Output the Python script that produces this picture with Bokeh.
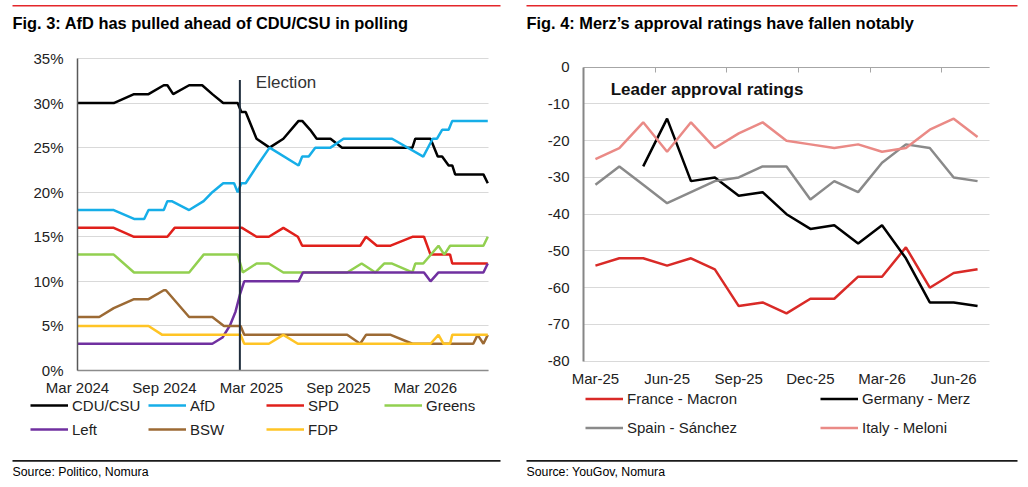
from bokeh.plotting import figure
from bokeh.layouts import row
from bokeh.models import (Range1d, FixedTicker, PrintfTickFormatter, LinearAxis, Label,
                          Legend, LegendItem, BoxAnnotation)
from bokeh.embed import file_html
from bokeh.resources import INLINE

FONT = "Liberation Sans"
H = 487

# ---- Fig. 3: polling, x = months since Mar 2024 ----
poll_ticks = [0, 6, 12, 18, 24]
poll_tick_labels = ["Mar 2024", "Sep 2024", "Mar 2025", "Sep 2025", "Mar 2026"]

cdu_x = [0, 2.5, 3.9, 4.9, 5.95, 6.2, 6.6, 7.7, 8.6, 9.3, 10.05, 11.05, 11.3, 11.6, 12.35, 13.25,
         14.2, 15.25, 15.5, 16.05, 16.5, 17.45, 18.25, 23.1, 23.3, 24.35, 24.85, 25.15, 25.6,
         25.85, 26.05, 28.0, 28.3]
cdu_y = [30, 30, 31, 31, 32, 32, 31, 32, 32, 31, 30, 30, 29, 29, 26, 25,
         26, 28, 28, 27, 26, 26, 25, 25, 26, 26, 24, 24, 23,
         23, 22, 22, 21]

afd_x = [0, 2.5, 3.9, 4.6, 4.9, 5.95, 6.2, 6.5, 7.7, 8.7, 9.3, 10.05, 10.8, 11.05, 11.3, 11.6,
         12.4, 13.25, 15.25, 15.5, 15.95, 16.4, 17.45, 18.35, 21.7, 23.85, 24.5, 24.8, 25.15,
         25.6, 25.85, 28.3]
afd_y = [18, 18, 17, 17, 18, 18, 19, 19, 18, 19, 20, 21, 21, 20, 21, 21,
         23, 25, 23, 24, 24, 25, 25, 26, 26, 24, 26, 26, 27,
         27, 28, 28]

spd_x = [0, 2.5, 3.9, 6.2, 6.7, 11.35, 12.35, 13.2, 14.2, 15.2, 15.5, 19.5, 19.9, 20.65, 21.6,
         23.1, 23.9, 24.35, 25.7, 25.85, 28.3]
spd_y = [16, 16, 15, 15, 16, 16, 15, 15, 16, 15, 14, 14, 15, 14, 14,
         15, 15, 13, 13, 12, 12]

greens_x = [0, 2.5, 3.9, 7.7, 8.7, 11.05, 11.4, 12.35, 13.2, 14.2, 18.6, 19.6, 20.55, 21.15,
            21.7, 23.1, 23.3, 23.85, 24.9, 25.3, 25.7, 28.0, 28.3]
greens_y = [13, 13, 11, 11, 13, 13, 11, 12, 12, 11, 11, 12, 11, 12,
            12, 11, 12, 12, 14, 13, 14, 14, 15]

left_x = [0, 9.3, 10.0, 10.5, 10.9, 11.2, 11.5, 15.25, 15.55, 23.9, 24.35, 24.9, 28.0, 28.3]
left_y = [3, 3, 3.7, 5.0, 6.6, 8.5, 10, 10, 11, 11, 10, 11, 11, 12]

bsw_x = [0, 1.5, 2.5, 3.9, 4.9, 5.95, 6.1, 7.7, 9.3, 10.1, 11.25, 11.5, 18.6, 19.5, 19.9, 21.6,
         23.1, 27.3, 27.6, 28.0, 28.3]
bsw_y = [6, 6, 7, 8, 8, 9, 9, 6, 6, 5, 5, 4, 4, 3, 4, 4,
         3, 3, 4, 3, 4]

fdp_x = [0, 4.9, 5.85, 11.25, 11.5, 13.2, 14.2, 15.2, 24.35, 24.9, 25.25, 25.7, 25.85, 28.3]
fdp_y = [5, 5, 4, 4, 3, 3, 4, 3, 3, 4, 3, 3, 4, 4]

election_month = 11.2
election_top = 32.6

poll_series = [
    ("CDU/CSU", cdu_x, cdu_y, "#000000"),
    ("AfD", afd_x, afd_y, "#16aee8"),
    ("SPD", spd_x, spd_y, "#e0201b"),
    ("Greens", greens_x, greens_y, "#92d050"),
    ("Left", left_x, left_y, "#7030a0"),
    ("BSW", bsw_x, bsw_y, "#9c6a34"),
    ("FDP", fdp_x, fdp_y, "#ffc425"),
]

# ---- Fig. 4: leader approval, monthly ----
months = ["Mar-25", "Apr-25", "May-25", "Jun-25", "Jul-25", "Aug-25", "Sep-25", "Oct-25",
          "Nov-25", "Dec-25", "Jan-26", "Feb-26", "Mar-26", "Apr-26", "May-26", "Jun-26", "Jul-26"]
france = [-54, -52, -52, -54, -52, -55, -65, -64, -67, -63, -63, -57, -57, -49, -60, -56, -55]
germany = [None, None, -27, -14, -31, -30, -35, -34, -40, -44, -43, -48, -43, -52, -64, -64, -65]
spain = [-32, -27, -32, -37, -34, -31, -30, -27, -27, -36, -31, -34, -26, -21, -22, -30, -31]
italy = [-25, -22, -15, -23, -15, -22, -18, -15, -20, -21, -22, -21, -23, -22, -17, -14, -19]

leader_series = [
    ("France - Macron", france, "#d92a27"),
    ("Germany - Merz", germany, "#000000"),
    ("Spain - Sánchez", spain, "#8a8a8a"),
    ("Italy - Meloni", italy, "#ea8a86"),
]


def padded_range(lo, hi, lo_px, hi_px, total_px):
    # range whose values lo/hi land on pixel lo_px/hi_px of a frame total_px long
    k = (hi_px - lo_px) / (hi - lo)
    return Range1d(lo - lo_px / k, hi + (total_px - hi_px) / k)


def panel(width, xr, yr):
    p = figure(width=width, height=H, x_range=xr, y_range=yr, min_border=0,
               toolbar_location=None, output_backend="svg", outline_line_color=None)
    p.xgrid.visible = False
    p.ygrid.grid_line_color = "#d9d9d9"
    p.axis.major_tick_in = 0
    p.axis.major_tick_out = 0
    p.axis.minor_tick_line_color = None
    p.axis.major_label_text_font = FONT
    p.axis.major_label_text_font_size = "15px"
    p.axis.major_label_text_color = "#222222"
    return p


def frame_text(p, x, top, txt, size, bold=False):
    p.add_layout(Label(x=x, y=H - top, x_units="screen", y_units="screen", text=txt,
                       text_font=FONT, text_font_size=size, text_color="#000000",
                       text_font_style="bold" if bold else "normal", text_baseline="middle"))


def hrule(p, x0, x1, top, thick, color):
    p.add_layout(BoxAnnotation(left=x0, right=x1, top=H - top, bottom=H - top - thick,
                               left_units="screen", right_units="screen",
                               top_units="screen", bottom_units="screen",
                               fill_color=color, fill_alpha=1, line_color=None))


def style_legend(lg, ncols, item_h, label_w):
    lg.orientation = "horizontal"
    lg.ncols = ncols
    lg.glyph_width = 38
    lg.glyph_height = item_h
    lg.label_height = item_h
    lg.label_width = label_w
    lg.label_standoff = 4
    lg.spacing = 0
    lg.padding = 0
    lg.margin = 0
    lg.border_line_color = None
    lg.background_fill_alpha = 0
    lg.label_text_font = FONT
    lg.label_text_font_size = "15px"
    lg.label_text_color = "#222222"


# ---------------- left chart ----------------
W1 = 516
x_end1 = 28.35
p1 = panel(W1, padded_range(0, x_end1, 77, 488, W1), padded_range(0, 35, H - 370, H - 58, H))

items1 = []
for name, xs, ys, col in poll_series:
    r = p1.line(xs, ys, color=col, line_width=2.5)
    items1.append(LegendItem(label=name, renderers=[r]))

p1.line([election_month, election_month], [0, election_top], color="#1f2d3d", line_width=2)
p1.add_layout(Label(x=12.3, y=32.3, text="Election", text_font=FONT, text_font_size="17px",
                    text_color="#333333", text_baseline="middle"))

p1.xaxis.fixed_location = 0
p1.xaxis.bounds = (0, x_end1)
p1.xaxis.ticker = FixedTicker(ticks=poll_ticks)
p1.xaxis.major_label_overrides = dict(zip(poll_ticks, poll_tick_labels))
p1.xaxis.axis_line_color = "#8c8c8c"
p1.xaxis.major_label_standoff = 8
p1.yaxis.fixed_location = 0
p1.yaxis.bounds = (0, 35)
p1.yaxis.ticker = FixedTicker(ticks=list(range(0, 36, 5)))
p1.yaxis.formatter = PrintfTickFormatter(format="%d%%")
p1.yaxis.axis_line_color = "#595959"
p1.yaxis.major_label_standoff = 14
p1.axis.axis_line_width = 1.5
p1.ygrid.cross_bounds = (0, x_end1)

lg1 = Legend(items=items1, location=(30, H - 441))
style_legend(lg1, 4, 24, 76)
p1.add_layout(lg1)

hrule(p1, 12, 500, 4.5, 1.5, "#e4262b")
frame_text(p1, 12, 22, "Fig. 3: AfD has pulled ahead of CDU/CSU in polling", "16.4px", bold=True)
hrule(p1, 12, 500, 459.5, 1.8, "#1a1a1a")
frame_text(p1, 12, 471, "Source: Politico, Nomura", "12.3px")

# ---------------- right chart ----------------
W2 = 512
idx = list(range(len(months)))
x0, x1 = -0.5, len(months) - 0.5
p2 = panel(W2, padded_range(x0, x1, 67, 473, W2), padded_range(-80, 0, H - 360.7, H - 66.7, H))

items2 = []
for name, vals, col in leader_series:
    pts = [(i, v) for i, v in zip(idx, vals) if v is not None]
    r = p2.line([a for a, _ in pts], [b for _, b in pts], color=col, line_width=2.5)
    items2.append(LegendItem(label=name, renderers=[r]))

p2.add_layout(Label(x=0.64, y=-6.1, text="Leader approval ratings", text_font=FONT,
                    text_font_size="17px", text_font_style="bold", text_color="#111111",
                    text_baseline="middle"))

label_ticks = idx[::3]
p2.xaxis.fixed_location = -80
p2.xaxis.bounds = (x0, x1)
p2.xaxis.ticker = FixedTicker(ticks=label_ticks)
p2.xaxis.major_label_overrides = {i: months[i] for i in label_ticks}
p2.xaxis.axis_line_color = None
p2.xaxis.major_label_standoff = 9
p2.yaxis.fixed_location = x0
p2.yaxis.bounds = (-80, 0)
p2.yaxis.ticker = FixedTicker(ticks=list(range(-80, 1, 10)))
p2.yaxis.formatter = PrintfTickFormatter(format="%d")
p2.yaxis.axis_line_color = "#868686"
p2.yaxis.axis_line_width = 2
p2.yaxis.major_label_standoff = 14
p2.ygrid.cross_bounds = (x0, x1)

# axis crossing at 0 with tick marks between the quarter labels
bounds = [t - 0.5 for t in label_ticks[1:]]
top_axis = LinearAxis(ticker=FixedTicker(ticks=bounds), major_label_overrides={b: "" for b in bounds},
                      fixed_location=0, bounds=(x0, x1),
                      major_tick_in=5, major_tick_out=0, minor_tick_line_color=None,
                      axis_line_color="#a6a6a6", major_tick_line_color="#a6a6a6")
p2.add_layout(top_axis, "above")

lg2 = Legend(items=items2, location=(69, H - 441.5))
style_legend(lg2, 2, 29, 193)
p2.add_layout(lg2)

hrule(p2, 10, 501, 4.5, 1.5, "#e4262b")
frame_text(p2, 10, 22, "Fig. 4: Merz\u2019s approval ratings have fallen notably", "16.4px", bold=True)
hrule(p2, 10, 501, 459.5, 1.8, "#1a1a1a")
frame_text(p2, 10, 471, "Source: YouGov, Nomura", "12.3px")

page = row(p1, p2)
open("out.html", "w").write(file_html(page, INLINE))
